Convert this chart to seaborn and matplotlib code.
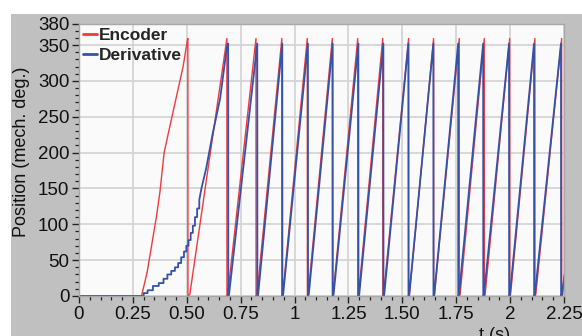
import numpy as np
import pandas as pd
import seaborn as sns
import matplotlib.pyplot as plt
from matplotlib.patches import Rectangle
from matplotlib.ticker import FixedLocator, MultipleLocator

# ---------------- data ----------------
series_names = ["Encoder", "Derivative"]

# Encoder: initial acceleration phase (vertices)
enc_early_t = [0.0, 0.29, 0.316, 0.36, 0.375, 0.395, 0.421, 0.452, 0.483, 0.503]
enc_early_v = [0, 0, 33, 112, 144, 200, 236, 278, 320, 357]
# Encoder: wrap-around instants (fall to 0) and start of each following ramp
enc_drop_t = [0.505, 0.686, 0.821, 0.941, 1.059, 1.175, 1.293, 1.409,
              1.529, 1.645, 1.764, 1.880, 1.998, 2.115, 2.239]
enc_ramp_t = [0.514, 0.690, 0.826, 0.945, 1.063, 1.179, 1.297, 1.413,
              1.533, 1.649, 1.768, 1.884, 2.002, 2.119, 2.243]
enc_peak = 359
enc_end = (2.26, 50)

# Derivative: initial staircase phase (time of each step, value after it)
der_step_t = [0.0, 0.300, 0.318, 0.343, 0.370, 0.392, 0.410, 0.428, 0.445,
              0.460, 0.474, 0.487, 0.498, 0.508, 0.518, 0.528, 0.538, 0.548,
              0.558]
der_step_v = [0, 4, 8, 14, 18, 24, 30, 35, 40, 46, 54, 62, 70, 78, 88, 98,
              110, 122, 134]
# Derivative: smoother upper part of the first ramp (vertices)
der_lin_t = [0.568, 0.590, 0.620, 0.655, 0.685]
der_lin_v = [150, 178, 226, 276, 345]
der_drop_t = [0.692, 0.827, 0.943, 1.062, 1.177, 1.296, 1.412, 1.528,
              1.644, 1.759, 1.875, 1.995, 2.111, 2.236]
der_ramp_t = [0.696, 0.831, 0.947, 1.066, 1.181, 1.300, 1.416, 1.532,
              1.648, 1.763, 1.879, 1.999, 2.115, 2.240]
der_peak = 352
der_end = (2.26, 45)

x_ticks = [0, 0.25, 0.5, 0.75, 1.0, 1.25, 1.5, 1.75, 2.0, 2.25]
x_tick_labels = ["0", "0.25", "0.50", "0.75", "1", "1.25", "1.50", "1.75", "2", "2.25"]
y_ticks = [0, 50, 100, 150, 200, 250, 300, 350, 380]
y_tick_labels = ["0", "50", "100", "150", "200", "250", "300", "350", "380"]


def stairs(step_t, step_v):
    t, v = [], []
    for i in range(len(step_t)):
        t.append(step_t[i])
        v.append(step_v[i])
        if i + 1 < len(step_t):
            t.append(step_t[i + 1])
            v.append(step_v[i])
    return t, v


def build(early_t, early_v, drop_t, ramp_t, peak, end):
    t = list(early_t)
    v = list(early_v)
    for d, r in zip(drop_t, ramp_t):
        t += [d, d + 0.0005, r]
        v += [peak, 0, 2]
    t.append(end[0])
    v.append(end[1])
    return t, v


et, ev = build(enc_early_t, enc_early_v, enc_drop_t, enc_ramp_t, enc_peak, enc_end)
st, sv = stairs(der_step_t, der_step_v)
dt, dv = build(st + der_lin_t, sv + der_lin_v, der_drop_t, der_ramp_t, der_peak, der_end)

df = pd.concat([
    pd.DataFrame({"t": et, "pos": ev, "series": series_names[0]}),
    pd.DataFrame({"t": dt, "pos": dv, "series": series_names[1]}),
], ignore_index=True)

# ---------------- figure ----------------
sns.set_theme(style="white")
plt.rcParams["font.family"] = ["Liberation Sans", "DejaVu Sans"]

fig = plt.figure(figsize=(5.82, 3.36), dpi=100, facecolor="white")
fig.add_artist(Rectangle((11 / 582, 0), 1, (336 - 14) / 336,
                         transform=fig.transFigure, facecolor="#c0c0c0",
                         edgecolor="none", zorder=-10))
ax = fig.add_axes([79 / 582, 1 - 296 / 336, (564 - 79) / 582, (296 - 23.5) / 336])
ax.set_facecolor("#fafafa")

palette = {"Encoder": "#ee3a40", "Derivative": "#3552a6"}
sns.lineplot(data=df, x="t", y="pos", hue="series", palette=palette,
             sort=False, estimator=None, ax=ax, linewidth=1.1)
for line, lw in zip(ax.get_lines(), [1.0, 1.3]):
    line.set_linewidth(lw)

ax.set_xlim(0, 2.25)
ax.set_ylim(0, 380)
ax.xaxis.set_major_locator(FixedLocator(x_ticks))
ax.set_xticklabels(x_tick_labels)
ax.xaxis.set_minor_locator(MultipleLocator(0.05))
ax.yaxis.set_major_locator(FixedLocator(y_ticks))
ax.set_yticklabels(y_tick_labels)
ax.yaxis.set_minor_locator(MultipleLocator(10))

ax.tick_params(axis="both", which="both", direction="out", bottom=True, left=True,
               colors="#222222", labelcolor="#111111")
ax.tick_params(axis="both", which="major", length=5, width=1, labelsize=13.5, pad=2)
ax.tick_params(axis="both", which="minor", length=3, width=0.9)

ax.grid(True, which="major", color="#d2d2d2", linewidth=1.2)
ax.set_axisbelow(True)
for sp in ax.spines.values():
    sp.set_color("#a8a8a8")
    sp.set_linewidth(1)

ax.set_ylabel("Position (mech. deg.)", fontsize=13, color="#111111")
ax.yaxis.set_label_coords(-0.1, 0.53)
ax.set_xlabel("t (s)", fontsize=13, color="#111111", va="top")
ax.xaxis.set_label_coords(0.856, -0.112)

leg = ax.legend(loc="upper left", frameon=False, handlelength=0.8,
                handletextpad=0.1, borderaxespad=0.05, borderpad=0.2,
                labelspacing=0.3, prop={"weight": "bold", "size": 12.5})
for h in leg.get_lines():
    h.set_linewidth(2)

fig.savefig("out.png", dpi=100, facecolor=fig.get_facecolor())
